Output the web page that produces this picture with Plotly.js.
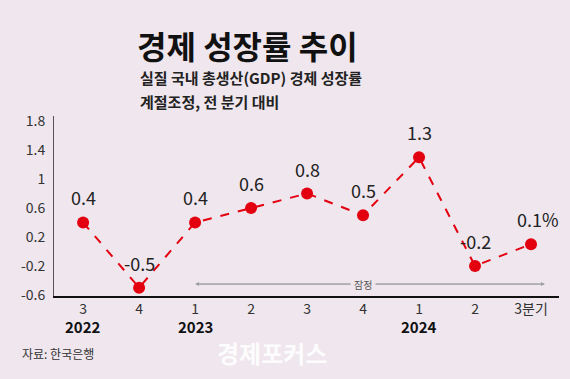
<!DOCTYPE html>
<html>
<head>
<meta charset="utf-8">
<script src="https://cdn.plot.ly/plotly-3.0.1.min.js"></script>
<style>html,body{margin:0;padding:0;background:#efe6ee;}#chart{width:570px;height:379px;}</style>
</head>
<body>
<div id="chart"></div>
<script>
const quarters = ["3", "4", "1", "2", "3", "4", "1", "2", "3분기"];
const growth = [0.4, -0.5, 0.4, 0.6, 0.8, 0.5, 1.3, -0.2, 0.1];
const valueLabels = ["0.4", "-0.5", "0.4", "0.6", "0.8", "0.5", "1.3", "-0.2", "0.1%"];
const years = ["2022", "2023", "2024"];
const yearIndex = [0, 2, 6];
const yTicks = [-0.6, -0.2, 0.2, 0.6, 1, 1.4, 1.8];
const yTickText = ["-0.6", "-0.2", "0.2", "0.6", "1", "1.4", "1.8"];

const xIdx = quarters.map((q, i) => i);
const FONT = "Noto Sans CJK KR, Noto Sans, sans-serif";
const M = {l: 54, r: 11, t: 116, b: 83};
const W = 570, H = 379;
const pw = W - M.l - M.r, ph = H - M.t - M.b;
const px = x => (x - M.l) / pw;
const py = y => (H - M.b - y) / ph;

const annotations = [];
valueLabels.forEach((t, i) => {
  annotations.push({
    x: xIdx[i], y: growth[i], xref: "x", yref: "y", text: t, showarrow: false,
    yshift: 25, xshift: (i === valueLabels.length - 1) ? 7 : 0,
    font: {family: FONT, size: 18, color: "#222"}
  });
});
years.forEach((yr, k) => {
  annotations.push({
    x: yearIndex[k], y: py(326), xref: "x", yref: "paper", xanchor: "center", yanchor: "middle",
    text: "<b>" + yr + "</b>", showarrow: false, font: {family: FONT, size: 15, color: "#111"}
  });
});
annotations.push({
  x: 8.25, y: -0.45, ax: 2.0, ay: -0.45, xref: "x", yref: "y", axref: "x", ayref: "y",
  showarrow: true, arrowhead: 2, arrowsize: 0.8, arrowwidth: 1, arrowcolor: "#a0a0a0", text: ""
});
annotations.push({
  x: 2.0, y: -0.45, ax: 8.25, ay: -0.45, xref: "x", yref: "y", axref: "x", ayref: "y",
  showarrow: true, arrowhead: 2, arrowsize: 0.8, arrowwidth: 1, arrowcolor: "#a0a0a0", text: ""
});
annotations.push({
  x: 5, y: -0.45, xref: "x", yref: "y", text: "잠정", showarrow: false,
  bgcolor: "#efe6ee", borderpad: 3, font: {family: FONT, size: 10, color: "#555"}
});
annotations.push(
  {x: px(135), y: py(45), xref: "paper", yref: "paper", xanchor: "left", yanchor: "middle",
   text: "<b>경제 성장률 추이</b>", showarrow: false, font: {family: FONT, size: 32, color: "#111"}},
  {x: px(138), y: py(77), xref: "paper", yref: "paper", xanchor: "left", yanchor: "middle",
   text: "<b>실질 국내 총생산(GDP) 경제 성장률</b>", showarrow: false, font: {family: FONT, size: 15, color: "#222"}},
  {x: px(138), y: py(101), xref: "paper", yref: "paper", xanchor: "left", yanchor: "middle",
   text: "<b>계절조정, 전 분기 대비</b>", showarrow: false, font: {family: FONT, size: 15, color: "#222"}},
  {x: px(20), y: py(353), xref: "paper", yref: "paper", xanchor: "left", yanchor: "middle",
   text: "자료: 한국은행", showarrow: false, font: {family: FONT, size: 12, color: "#333"}},
  {x: px(272), y: py(352), xref: "paper", yref: "paper", xanchor: "center", yanchor: "middle",
   text: "<b>경제포커스</b>", showarrow: false, font: {family: FONT, size: 24, color: "rgba(255,255,255,0.92)"}}
);

const layout = {
  width: W, height: H,
  paper_bgcolor: "#efe6ee", plot_bgcolor: "#efe6ee",
  margin: M,
  showlegend: false,
  xaxis: {
    range: [-0.52, 8.5], tickmode: "array", tickvals: xIdx, ticktext: quarters,
    showgrid: false, zeroline: false, showline: true, linecolor: "#111", linewidth: 1.5,
    ticks: "", tickfont: {family: FONT, size: 14, color: "#333"}, fixedrange: true
  },
  yaxis: {
    range: [-0.615, 1.87], tickmode: "array", tickvals: yTicks, ticktext: yTickText,
    showgrid: false, zeroline: false, showline: true, linecolor: "#555", linewidth: 1,
    ticks: "", ticklabelstandoff: 5, tickfont: {family: FONT, size: 14, color: "#333"}, fixedrange: true
  },
  annotations: annotations
};

const trace = {
  x: xIdx, y: growth, type: "scatter", mode: "lines+markers",
  line: {color: "#e3000f", width: 2, dash: "dash"},
  marker: {color: "#e3000f", size: 12},
  hoverinfo: "skip", cliponaxis: false
};

Plotly.newPlot("chart", [trace], layout, {displayModeBar: false, staticPlot: true});
</script>
</body>
</html>
